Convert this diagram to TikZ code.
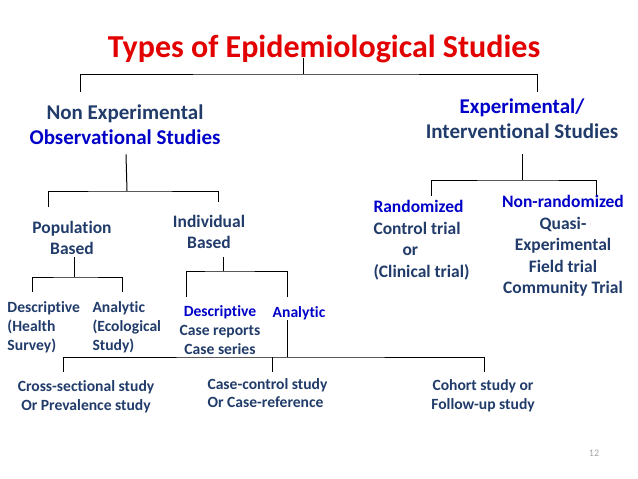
\documentclass[tikz,border=0pt]{standalone}
\usepackage{fontspec}
\setmainfont{Carlito}[Ligatures=NoCommon]
\usepackage{tikz}

\definecolor{titlered}{RGB}{226,0,0}
\definecolor{deepblue}{RGB}{0,0,200}
\definecolor{slate}{RGB}{33,60,106}

\begin{document}
\begin{tikzpicture}[x=1pt, y=-1pt, line width=1pt]
        \tikzstyle{every node}=[inner sep=0pt, text=slate, font=\bfseries]
        \tikzstyle{head}=[text=titlered, font=\fontsize{32}{38}\selectfont\bfseries]
        \tikzstyle{bigtype}=[align=center, font=\fontsize{21}{25}\selectfont\bfseries]
        \tikzstyle{midtype}=[align=center, font=\fontsize{17.5}{21.5}\selectfont\bfseries]
        \tikzstyle{smalltype}=[align=center, font=\fontsize{15.6}{19}\selectfont\bfseries]
        \tikzstyle{leaftype}=[align=center, font=\fontsize{15.6}{18.5}\selectfont\bfseries]
        \fill[white] (0,0) rectangle (638,479);
        \useasboundingbox (0,0) rectangle (638,479);

        \node[head]       (title)   at (324,49)   {Types of Epidemiological Studies};
        \node[bigtype]    (nonexp)  at (125,125)  {Non Experimental\\\textcolor{deepblue}{Observational Studies}};
        \node[bigtype]    (exper)   at (522,119)  {\textcolor{deepblue}{Experimental/}\\Interventional Studies};

        \node[midtype]    (pop)     at (72,238)   {Population\\Based};
        \node[midtype]    (indiv)   at (209,232)  {Individual\\Based};
        \node[midtype, align=left, anchor=west] (rand) at (373,240)
                {\textcolor{deepblue}{Randomized}\\Control trial\\\hspace*{29pt}or\\(Clinical trial)};
        \node[midtype]    (nonrand) at (563,246)
                {\textcolor{deepblue}{Non-randomized}\\Quasi-\\Experimental\\Field trial\\Community Trial};

        \node[smalltype, align=left, anchor=west] (popdesc) at (7,327)  {Descriptive\\(Health\\Survey)};
        \node[smalltype, align=left, anchor=west] (popanal) at (92,327) {Analytic\\(Ecological\\Study)};
        \node[smalltype]  (inddesc) at (220,330)  {\textcolor{deepblue}{Descriptive}\\Case reports\\Case series};
        \node[smalltype, text=deepblue] (indanal) at (299,313) {Analytic};

        \node[leaftype]   (cross)   at (86,397)   {Cross-sectional study\\Or Prevalence study};
        \node[leaftype, align=left, anchor=west] (casectl) at (207,393) {Case-control study\\Or Case-reference};
        \node[leaftype]   (cohort)  at (483,396)  {Cohort study or\\Follow-up study};

        \node[font=\fontsize{10}{12}\selectfont, text=black!35] (pagenum) at (594,453) {12};

        % junctions and drop ends of the tree lines
        \coordinate (j0) at (303,74);
        \coordinate (j1) at (127,191);
        \coordinate (j2) at (522,180);
        \coordinate (j3) at (74,277);
        \coordinate (j4) at (223,271);
        \coordinate (j5) at (287,357);
        \coordinate (d0a) at (80,92);   \coordinate (d0b) at (537,92);
        \coordinate (d1a) at (48,207);  \coordinate (d1b) at (218,202);
        \coordinate (d2a) at (431,196); \coordinate (d2b) at (596,195);
        \coordinate (d3a) at (32,292);  \coordinate (d3b) at (122,292);
        \coordinate (d4a) at (186,297); \coordinate (d4b) at (287,297);
        \coordinate (d5a) at (63,372);  \coordinate (d5b) at (272,372); \coordinate (d5c) at (484,372);

        \draw (j0 |- title.base) -- (j0);
        \draw (d0a) |- (j0) -| (d0b);

        \draw (nonexp.south) ++(1,9) -- (j1);
        \draw (d1a) |- (j1) -| (d1b);

        \draw (j2 |- exper.south) ++(0,15) -- (j2);
        \draw (d2a) |- (j2) -| (d2b);

        \draw (j3 |- pop.south) ++(0,2) -- (j3);
        \draw (d3a) |- (j3) -| (d3b);

        \draw (j4 |- indiv.south) ++(0,8) -- (j4);
        \draw (d4a) |- (j4) -| (d4b);

        \draw (j5 |- indanal.south) -- (j5);
        \draw (d5a) |- (j5) -| (d5c) (d5b) -- (d5b |- j5);
\end{tikzpicture}
\end{document}
